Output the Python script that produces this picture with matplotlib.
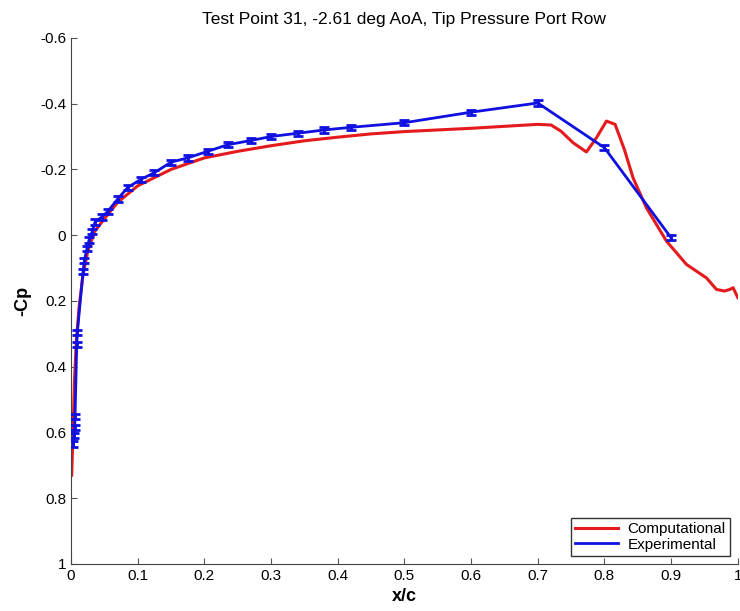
import matplotlib.pyplot as plt
from matplotlib.lines import Line2D
import numpy as np

plt.rcParams['font.family'] = ['Liberation Sans', 'DejaVu Sans']

# computational Cp curve (plotted as shown, y axis reversed)
x_comp = [0.001, 0.002, 0.003, 0.005, 0.008, 0.012, 0.018, 0.025, 0.035, 0.05,
          0.07, 0.1, 0.15, 0.2, 0.25, 0.3, 0.35, 0.4, 0.45, 0.5, 0.6, 0.7, 0.72, 0.735,
          0.753, 0.773, 0.788, 0.803, 0.816, 0.83, 0.843, 0.863, 0.893, 0.923, 0.953,
          0.968, 0.98, 0.988, 0.993, 1.0]
y_comp = [0.73, 0.66, 0.60, 0.45, 0.32, 0.22, 0.12, 0.05, -0.01, -0.05,
          -0.10, -0.15, -0.20, -0.235, -0.255, -0.272, -0.287, -0.298, -0.308, -0.315, -0.325, -0.337, -0.335, -0.316,
          -0.281, -0.253, -0.296, -0.347, -0.337, -0.26, -0.174, -0.083, 0.018, 0.089, 0.13,
          0.165, 0.17, 0.165, 0.16, 0.19]

# experimental pressure ports
x_exp = [0.0035, 0.0045, 0.0055, 0.006, 0.0085, 0.0095, 0.018, 0.020, 0.024, 0.027,
         0.032, 0.036, 0.046, 0.055, 0.070, 0.085, 0.105, 0.125, 0.150, 0.175,
         0.205, 0.235, 0.270, 0.300, 0.340, 0.380, 0.420, 0.500, 0.600, 0.700,
         0.800, 0.900]
y_exp = [0.635, 0.610, 0.585, 0.552, 0.332, 0.295, 0.110, 0.077, 0.040, 0.015,
         -0.012, -0.040, -0.055, -0.072, -0.110, -0.145, -0.170, -0.190, -0.222, -0.235,
         -0.255, -0.275, -0.288, -0.300, -0.310, -0.320, -0.328, -0.342, -0.374, -0.402,
         -0.266, 0.008]
err_exp = [0.008] * len(x_exp)

red = '#e41a1c'
blue = '#1010e0'

fig = plt.figure(figsize=(7.4, 6.11), dpi=100)
ax = fig.add_axes([0.096, 0.077, 0.901, 0.861])

ax.plot(x_comp, y_comp, color=red, lw=2.2, zorder=2)
ax.errorbar(x_exp, y_exp, yerr=err_exp, color=blue, lw=2.0, elinewidth=2.0,
            capsize=3.8, capthick=2.0, zorder=3)

ax.set_xlim(0, 1)
ax.set_ylim(1, -0.6)
ax.set_xticks(np.arange(0, 1.01, 0.1))
ax.set_xticklabels(['0', '0.1', '0.2', '0.3', '0.4', '0.5', '0.6', '0.7', '0.8', '0.9', '1'])
ax.set_yticks(np.arange(-0.6, 1.01, 0.2))
ax.set_yticklabels(['-0.6', '-0.4', '-0.2', '0', '0.2', '0.4', '0.6', '0.8', '1'])
ax.tick_params(direction='in', length=4, labelsize=11, color='#555555')
for s in ['top', 'right']:
    ax.spines[s].set_visible(False)
for s in ['left', 'bottom']:
    ax.spines[s].set_color('#444444')

ax.set_xlabel('x/c', fontsize=13, fontweight='bold', labelpad=4)
ax.set_ylabel('-Cp', fontsize=13, fontweight='bold', labelpad=6)
ax.set_title('Test Point 31, -2.61 deg AoA, Tip Pressure Port Row', fontsize=12.5, pad=10)

handles = [Line2D([], [], color=red, lw=2.2), Line2D([], [], color=blue, lw=2.0)]
leg = ax.legend(handles, ['Computational', 'Experimental'], loc='lower right', fontsize=11,
                fancybox=False, edgecolor='#333333', framealpha=1, borderaxespad=0.5,
                handlelength=2.8, handletextpad=0.6, labelspacing=0.1, borderpad=0.3)
leg.get_frame().set_linewidth(1.0)

fig.savefig('out.png', dpi=100)
